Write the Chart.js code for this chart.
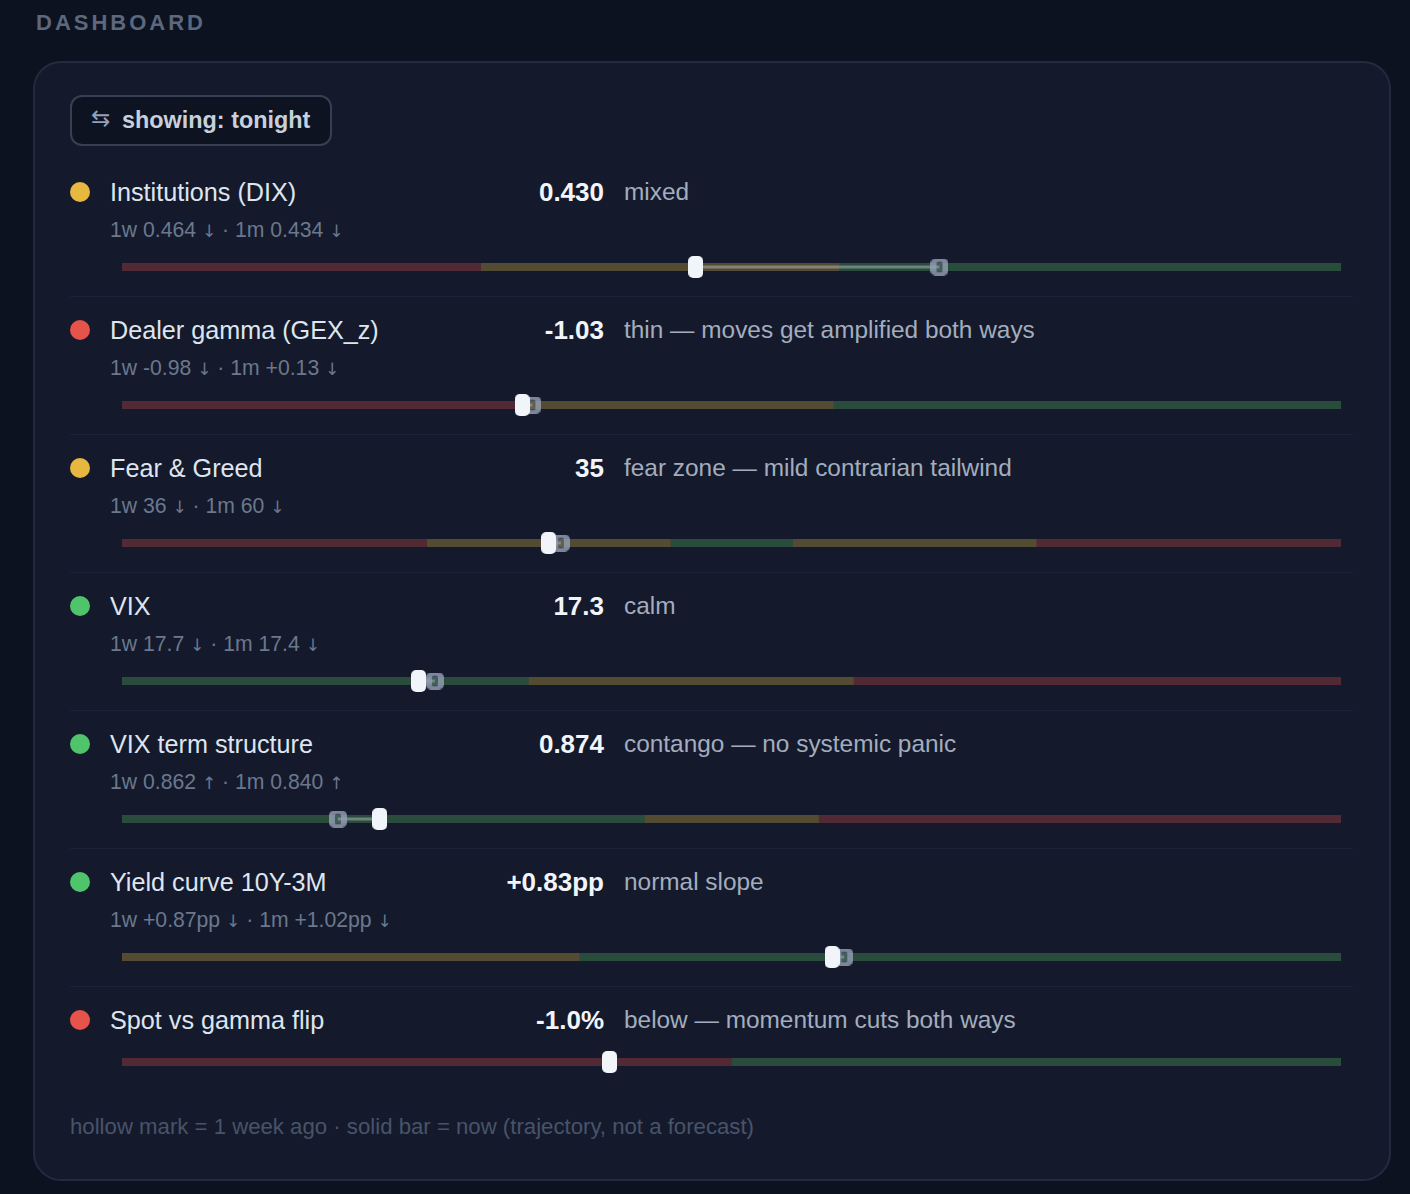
<!DOCTYPE html>
<html>
<head>
<meta charset="utf-8">
<script src="https://cdn.jsdelivr.net/npm/chart.js@4.4.1/dist/chart.umd.min.js"></script>
<style>
  html, body { margin:0; padding:0; background:#0d1220; }
  body { width:1410px; height:1194px; overflow:hidden; font-family:"Liberation Sans", Arial, Helvetica, sans-serif; }
  #root { position:relative; width:1410px; height:1194px; background:#0d1220; }
  .abs { position:absolute; white-space:nowrap; }
  #hdr { left:36px; top:8px; line-height:30px; font-size:22px; font-weight:bold; letter-spacing:3px; color:#5c687d; }
  #card { left:33px; top:61px; width:1354px; height:1116px; border:2px solid #232b3e; border-radius:28px; background:#141a2c; }
  #btn { left:70px; top:95px; width:258px; height:47px; border:2px solid #373f52; border-radius:12px; background:#0e1322; }
  #btnicon { left:91px; top:103px; line-height:30px; font-size:23px; color:#94a0b4; font-family:"DejaVu Sans", sans-serif; }
  #btntxt { left:122px; top:105px; line-height:30px; font-size:23.4px; font-weight:bold; color:#c8d0dc; }
  .dot { width:20px; height:20px; border-radius:50%; }
  .title { font-size:25.2px; line-height:30px; color:#dfe5ee; }
  .val { font-size:26px; line-height:30px; font-weight:bold; color:#f1f5f9; text-align:right; }
  .desc { font-size:24.4px; line-height:30px; color:#a3adbd; }
  .sub { font-size:21.2px; line-height:26px; color:#6b788d; }
  .arr { font-family:"DejaVu Sans", sans-serif; font-size:17px; }
  .sep { height:1px; background:#1a2235; }
  #foot { left:70px; top:1113px; line-height:28px; font-size:22.2px; color:#48536a; }
  canvas.gauge { position:absolute; }
</style>
</head>
<body>
<div id="root">
  <div id="hdr" class="abs">DASHBOARD</div>
  <div id="card" class="abs"></div>
  <div id="btn" class="abs"></div>
  <div id="btnicon" class="abs">⇆</div>
  <div id="btntxt" class="abs">showing: tonight</div>
  <div id="foot" class="abs">hollow mark = 1 week ago · solid bar = now (trajectory, not a forecast)</div>
</div>
<script>
// ---- data ----
const rowNames = ["Institutions (DIX)", "Dealer gamma (GEX_z)", "Fear & Greed", "VIX", "VIX term structure", "Yield curve 10Y-3M", "Spot vs gamma flip"];
const rowStatus = ["mid", "bad", "mid", "good", "good", "good", "bad"];
const nowValues = [0.430, -1.03, 35, 17.3, 0.874, 0.83, -1.0];
const weekValues = [0.464, -0.98, 36, 17.7, 0.862, 0.87, null];
const monthValues = [0.434, 0.13, 60, 17.4, 0.840, 1.02, null];
const nowLabels = ["0.430", "-1.03", "35", "17.3", "0.874", "+0.83pp", "-1.0%"];
const weekLabels = ["0.464", "-0.98", "36", "17.7", "0.862", "+0.87pp", null];
const monthLabels = ["0.434", "+0.13", "60", "17.4", "0.840", "+1.02pp", null];
const weekArrows = ["↓", "↓", "↓", "↓", "↑", "↓", null];
const monthArrows = ["↓", "↓", "↓", "↓", "↑", "↓", null];
const descriptions = ["mixed", "thin — moves get amplified both ways", "fear zone — mild contrarian tailwind", "calm", "contango — no systemic panic", "normal slope", "below — momentum cuts both ways"];
const scaleMin = [0.35, -3, 0, 10, 0.80, -1.5, -5];
const scaleMax = [0.52, 3, 100, 40, 1.15, 2.5, 5];
const zoneEdges = [
  [0.35, 0.40, 0.45, 0.52],
  [-3, -1, 0.5, 3],
  [0, 25, 45, 55, 75, 100],
  [10, 20, 28, 40],
  [0.80, 0.95, 1.00, 1.15],
  [-1.5, 0, 2.5],
  [-5, 0, 5]
];
const zoneKinds = [
  ["bad", "mid", "good"],
  ["bad", "mid", "good"],
  ["bad", "mid", "good", "mid", "bad"],
  ["good", "mid", "bad"],
  ["good", "mid", "bad"],
  ["mid", "good"],
  ["bad", "good"]
];

// ---- styles ----
const zoneColor = { bad: "#522a36", mid: "#544b33", good: "#2a4c3d" };
const dotColor = { bad: "#e5534b", mid: "#e6b840", good: "#4fc46a" };

function makeSolid() {
  const c = document.createElement("canvas");
  c.width = 15; c.height = 22;
  const x = c.getContext("2d");
  x.fillStyle = "#f1f5fa";
  x.beginPath(); x.roundRect(0, 0, 15, 22, 5); x.fill();
  return c;
}
function makeHollow() {
  const c = document.createElement("canvas");
  c.width = 18; c.height = 17;
  const x = c.getContext("2d");
  x.fillStyle = "rgba(148,160,180,0.82)";
  x.beginPath(); x.roundRect(0, 0, 18, 17, 5); x.fill();
  x.globalCompositeOperation = "destination-out";
  x.fillStyle = "rgba(0,0,0,0.72)";
  x.beginPath(); x.roundRect(6, 3.5, 6, 10, 1.5); x.fill();
  return c;
}
const solidImg = makeSolid();
const hollowImg = makeHollow();

const root = document.getElementById("root");
function add(cls, left, top, text, extra) {
  const d = document.createElement("div");
  d.className = "abs " + cls;
  d.style.left = left + "px";
  d.style.top = top + "px";
  if (text !== null) d.textContent = text;
  if (extra) Object.assign(d.style, extra);
  root.appendChild(d);
  return d;
}
function arrowSpan(a) {
  const s = document.createElement("span");
  s.className = "arr";
  s.textContent = a;
  return s;
}

const ROW0 = 158, PITCH = 138;
const BAR_LEFT = 122, BAR_RIGHT = 1341, PAD = 14, CH = 32;

rowNames.forEach((name, i) => {
  const top = ROW0 + PITCH * i;
  const titleY = top + 34;
  const hasSub = weekLabels[i] !== null;
  const barY = hasSub ? top + 109 : top + 76;

  add("dot", 70, titleY - 10, null, { background: dotColor[rowStatus[i]] });
  add("title", 110, titleY - 15, name);
  add("val", 304, titleY - 15, nowLabels[i], { width: "300px" });
  add("desc", 624, titleY - 15, descriptions[i]);
  if (hasSub) {
    const s = add("sub", 110, top + 72 - 13, null);
    s.appendChild(document.createTextNode("1w " + weekLabels[i] + " "));
    s.appendChild(arrowSpan(weekArrows[i]));
    s.appendChild(document.createTextNode(" · 1m " + monthLabels[i] + " "));
    s.appendChild(arrowSpan(monthArrows[i]));
  }
  if (i < rowNames.length - 1) add("sep", 70, top + PITCH, null, { width: "1283px" });

  const cv = document.createElement("canvas");
  cv.className = "gauge";
  const w = BAR_RIGHT - BAR_LEFT + 2 * PAD;
  cv.width = w; cv.height = CH;
  cv.style.left = (BAR_LEFT - PAD) + "px";
  cv.style.top = (barY - CH / 2) + "px";
  cv.style.width = w + "px"; cv.style.height = CH + "px";
  root.appendChild(cv);

  const edges = zoneEdges[i];
  const datasets = [];
  zoneKinds[i].forEach((k, j) => {
    datasets.push({
      type: "bar",
      data: [[edges[j], edges[j + 1]]],
      backgroundColor: zoneColor[k],
      barThickness: 10,
      grouped: false,
      borderWidth: 0,
      borderSkipped: false,
      order: 10
    });
  });
  if (weekValues[i] !== null) {
    datasets.push({
      type: "line",
      data: [{ x: weekValues[i], y: "r" }, { x: nowValues[i], y: "r" }],
      borderColor: "rgba(200,208,220,0.42)",
      borderWidth: 3,
      pointRadius: 0,
      clip: false,
      order: 2
    });
    datasets.push({
      type: "line",
      data: [{ x: weekValues[i], y: "r" }],
      showLine: false,
      pointStyle: hollowImg,
      pointRadius: 9,
      clip: false,
      order: 1
    });
  }
  datasets.push({
    type: "line",
    data: [{ x: nowValues[i], y: "r" }],
    showLine: false,
    pointStyle: solidImg,
    pointRadius: 11,
    clip: false,
    order: 0
  });

  new Chart(cv, {
    type: "bar",
    data: { labels: ["r"], datasets },
    options: {
      indexAxis: "y",
      responsive: false,
      animation: false,
      events: [],
      devicePixelRatio: 1,
      layout: { padding: { left: PAD, right: PAD, top: 0, bottom: 0 } },
      plugins: { legend: { display: false }, tooltip: { enabled: false } },
      scales: {
        x: { type: "linear", min: scaleMin[i], max: scaleMax[i], display: false },
        y: { type: "category", display: false }
      }
    }
  });
});
</script>
</body>
</html>
